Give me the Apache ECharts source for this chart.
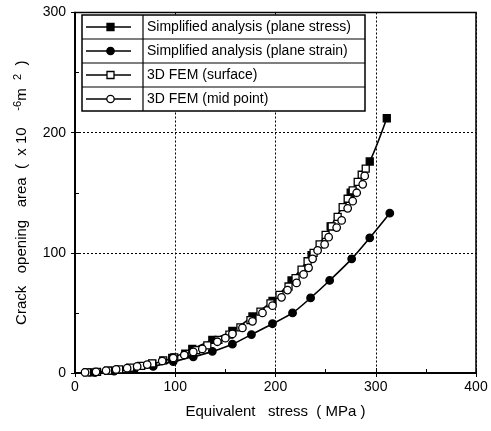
<!DOCTYPE html>
<html><head><meta charset="utf-8">
<script src="https://cdn.jsdelivr.net/npm/echarts@6/dist/echarts.min.js"></script>
<style>html,body{margin:0;padding:0;background:#fff}#c{width:491px;height:431px}</style>
</head><body><div id="c"></div>
<script>
var xTicks = [0, 100, 200, 300, 400];
var yTicks = [0, 100, 200, 300];
var legendNames = ['Simplified analysis (plane stress)', 'Simplified analysis (plane strain)', '3D FEM (surface)', '3D FEM (mid point)'];

var planeStress = [[17,0.5],[37,2],[57,4],[77,7.5],[97,12.5],[117,20],[137,27.5],[157,35],[177,47],[197,60],[216,77],[236,98],[255,122],[275,150],[294,176],[311,212]];
var planeStrain = [[20,0.5],[39,1.5],[59,3],[78,5.5],[98,9.5],[118,13.5],[137,18],[157,24],[176,32],[197,41],[217,50],[235,62.5],[254,77],[276,95],[294,112.5],[314,133]];
var femSurface = [[12,0.5],[22,1],[33,2],[44,3],[55,4.5],[66,6],[77,8],[88,10.5],[99,13],[110,16],[121,19],[132,23],[143,27.5],[154,32],[165,38],[175,44],[185,51],[195,58],[204,65],[213,72],[220,79],[226,86],[232,93],[238,100],[244,107],[250,115],[256,122],[262,130],[267,138],[272,145],[277,152],[282,159],[286,165],[290,170]];
var femMid = [[10,0.5],[21,1],[31,2],[41,3],[52,4],[62,5.5],[72,7],[87,10],[98,12.5],[109,15],[118,17.5],[127,20],[142,26],[150,29],[157,32.5],[167,37.5],[177,43],[187,50],[197,56],[206,63],[212,69],[221,75],[228,82],[233,87.5],[237,95],[242,102],[249,107],[253,113],[261,121],[266,127],[272,137],[277,143],[281,150],[287,157],[289,164]];

var FONT = 'Liberation Sans, Arial, Helvetica, sans-serif';
var chart = echarts.init(document.getElementById('c'), null, {renderer: 'canvas'});

// legend box built from graphic elements
var LX = 82, LR = 365, LT = 15, RH = 24, DIV = 143;
var gfx = [];
gfx.push({type:'rect', shape:{x:LX, y:LT, width:LR-LX, height:RH*4}, style:{fill:'#fff', stroke:'#000', lineWidth:1.5}, z:100});
gfx.push({type:'line', shape:{x1:DIV, y1:LT, x2:DIV, y2:LT+RH*4}, style:{stroke:'#000', lineWidth:1.2}, z:101});
for (var i = 1; i < 4; i++) {
  gfx.push({type:'line', shape:{x1:LX, y1:LT+RH*i, x2:LR, y2:LT+RH*i}, style:{stroke:'#000', lineWidth:1.2}, z:101});
}
var sym = [
  {t:'rect', fill:'#000'}, {t:'circle', fill:'#000'}, {t:'rect', fill:'#fff'}, {t:'circle', fill:'#fff'}
];
for (var i = 0; i < 4; i++) {
  var cy = LT + RH*i + RH/2;
  gfx.push({type:'line', shape:{x1:86, y1:cy, x2:131, y2:cy}, style:{stroke:'#000', lineWidth:1.5}, z:102});
  if (sym[i].t === 'rect') {
    gfx.push({type:'rect', shape:{x:107, y:cy-3.5, width:7, height:7}, style:{fill:sym[i].fill, stroke:'#000', lineWidth:1.3}, z:103});
  } else {
    gfx.push({type:'circle', shape:{cx:110.5, cy:cy, r:3.7}, style:{fill:sym[i].fill, stroke:'#000', lineWidth:1.3}, z:103});
  }
  gfx.push({type:'text', x:147, y:cy, style:{text:legendNames[i], fill:'#000', font:'14px ' + FONT, textVerticalAlign:'middle', verticalAlign:'middle'}, z:103});
}

function mk(name, data, symbol, fill, showLine) {
  return {
    name: name, type: 'line', data: data, symbol: symbol, symbolSize: symbol === 'rect' ? 7 : 7.5,
    smooth: showLine ? 0.3 : false,
    showSymbol: true,
    lineStyle: {color:'#000', width: showLine ? 1.6 : 0, opacity: showLine ? 1 : 0},
    itemStyle: {color: fill, borderColor:'#000', borderWidth: 1.3},
    animation: false, z: showLine ? 3 : 4
  };
}

var option = {
  animation: false,
  backgroundColor: '#fff',
  grid: {left: 75, right: 15, top: 12.5, bottom: 58, show: true, borderColor: '#000', borderWidth: 1.5, backgroundColor: 'transparent'},
  xAxis: [{
    type: 'value', min: xTicks[0], max: xTicks[xTicks.length-1], interval: 100,
    name: 'Equivalent   stress  ( MPa )', nameLocation: 'middle', nameGap: 31,
    nameTextStyle: {color:'#000', fontSize: 15, fontFamily: FONT},
    axisLine: {show: true, lineStyle: {color:'#000', width: 1.5}},
    axisTick: {show: true, inside: true, length: 5, lineStyle: {color:'#000'}},
    minorTick: {show: true, splitNumber: 2, length: 4, lineStyle:{color:'#000'}},
    axisLabel: {color:'#000', fontSize: 14, fontFamily: FONT, margin: 7},
    splitLine: {show: true, lineStyle: {color:'#000', type: [2, 2], width: 1}}
  }, {
    type: 'value', position: 'top', min: 0, max: 400, interval: 100,
    axisLine: {show: true, lineStyle: {color:'#000', width: 1.5}},
    axisTick: {show: true, inside: true, length: 4, lineStyle: {color:'#000'}},
    axisLabel: {show: false}, splitLine: {show: false}
  }],
  yAxis: [{
    type: 'value', min: yTicks[0], max: yTicks[yTicks.length-1], interval: 100,
    name: 'Crack   opening   area  (  x 10    {s|-6}m  {s|2}  )', nameLocation: 'middle', nameGap: 44, nameRotate: 90,
    nameTextStyle: {color:'#000', fontSize: 15, fontFamily: FONT,
      rich: {s: {fontSize: 11, fontFamily: FONT, color:'#000', verticalAlign: 'top', padding:[0,0,8,0]}}},
    axisLine: {show: true, lineStyle: {color:'#000', width: 1.5}},
    axisTick: {show: true, inside: true, length: 5, lineStyle: {color:'#000'}},
    minorTick: {show: true, splitNumber: 2, length: 4, lineStyle:{color:'#000'}},
    axisLabel: {color:'#000', fontSize: 14, fontFamily: FONT, margin: 9},
    splitLine: {show: true, lineStyle: {color:'#000', type: [2, 2], width: 1}}
  }, {
    type: 'value', position: 'right', min: 0, max: 300, interval: 100,
    axisLine: {show: true, lineStyle: {color:'#000', width: 1.5}},
    axisTick: {show: true, inside: true, length: 4, lineStyle: {color:'#000'}},
    axisLabel: {show: false}, splitLine: {show: false}
  }],
  series: [
    mk(legendNames[0], planeStress, 'rect', '#000', true),
    mk(legendNames[1], planeStrain, 'circle', '#000', true),
    mk(legendNames[2], femSurface, 'rect', '#fff', false),
    mk(legendNames[3], femMid, 'circle', '#fff', false)
  ],
  graphic: gfx
};
chart.setOption(option);
</script></body></html>
